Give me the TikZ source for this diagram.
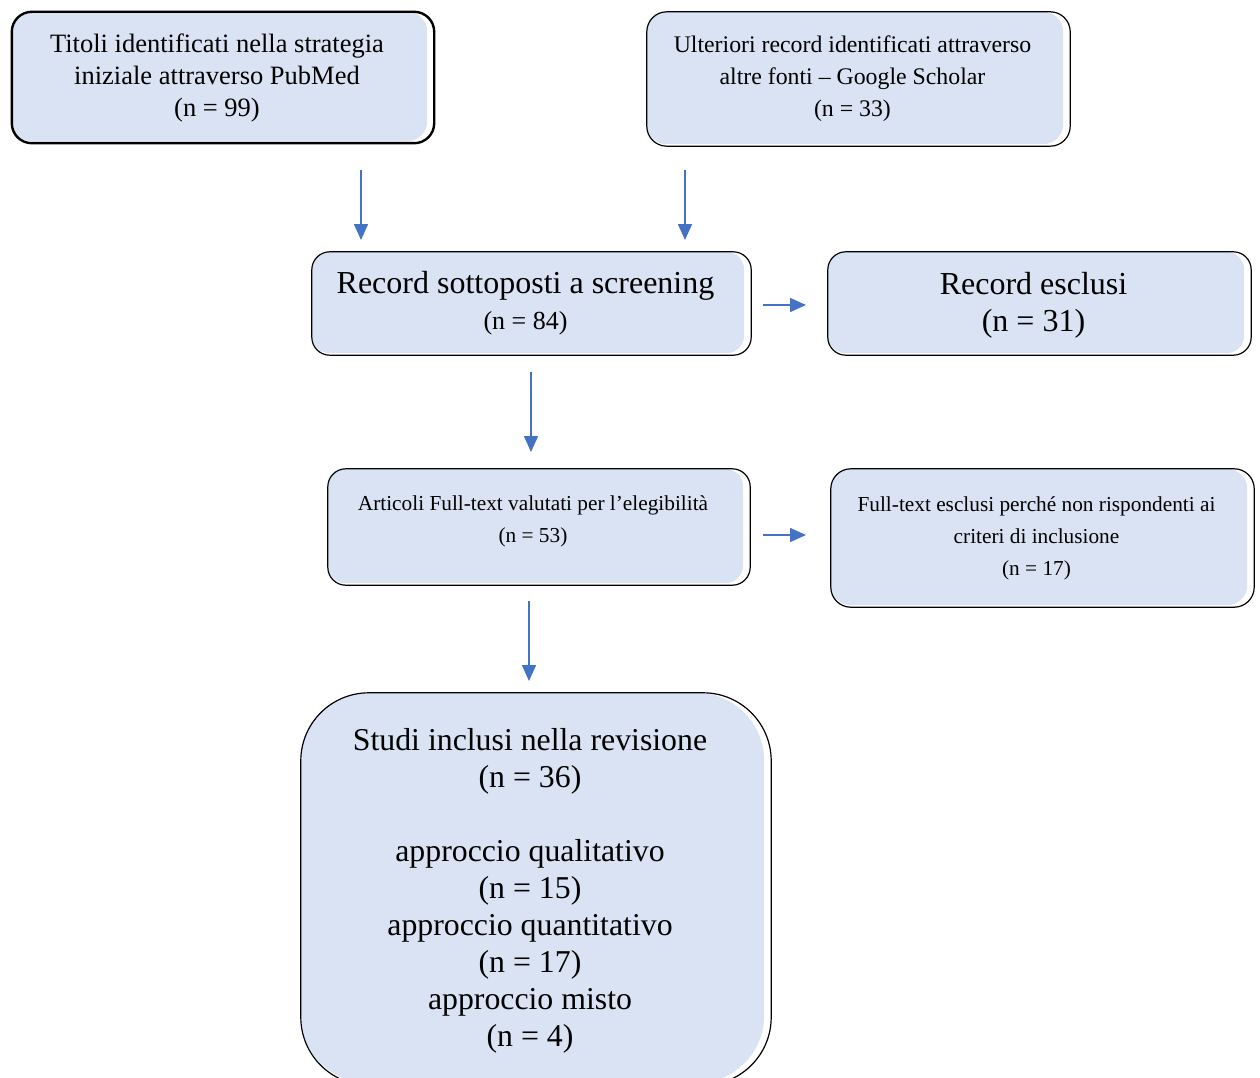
\documentclass[tikz,border=0pt]{standalone}
\usepackage{fontspec}
\setmainfont{Liberation Serif}
\usetikzlibrary{arrows.meta,backgrounds}
\definecolor{boxblue}{HTML}{DAE3F3}
\definecolor{arrowblue}{HTML}{4472C4}
\newcommand\fs[2]{\fontsize{#1}{#2}\selectfont}
% #1 node, #2 corner radius, #3 line width, #4 extra at top, #5 extra at bottom
\newcommand\boxdeco[5]{%
  \begin{pgfonlayer}{background}
    \fill[white, rounded corners=#2] ([yshift=#4]#1.north west) rectangle ([xshift=12pt,yshift=-#5]#1.south east);
    \fill[boxblue, rounded corners=#2] ([yshift=#4]#1.north west) rectangle ([xshift=5pt,yshift=-#5+2pt]#1.south east);
  \end{pgfonlayer}
  \draw[black, line width=#3, rounded corners=#2] ([yshift=#4]#1.north west) rectangle ([xshift=12pt,yshift=-#5]#1.south east);}
\tikzset{
  flowbox/.style={rectangle, inner sep=0pt, align=center, text=black},
  flowarrow/.style={draw=arrowblue, line width=1.6pt, -{Triangle[length=16pt, width=14pt]}}
}
\begin{document}
\begin{tikzpicture}[x=1pt, y=-1pt]
\useasboundingbox (0,0) rectangle (1260,1078);

\node[flowbox, minimum width=410pt, minimum height=131pt, font=\fs{26.5}{32}] (b1) at (217,77.5)
  {Titoli identificati nella strategia\\ iniziale attraverso PubMed\\ (n = 99)};
\boxdeco{b1}{20pt}{2.4pt}{0pt}{0pt}

\node[flowbox, minimum width=411pt, minimum height=134pt, font=\fs{23.8}{32}] (b2) at (852.5,79)
  {Ulteriori record identificati attraverso\\ altre fonti -- Google Scholar\\ (n = 33)};
\boxdeco{b2}{20pt}{1.2pt}{0pt}{0pt}

\node[flowbox, minimum width=427pt, minimum height=103pt, font=\fs{32}{36}] (b3) at (525.5,303.5)
  {Record sottoposti a screening\\ \fs{26}{36}(n = 84)};
\boxdeco{b3}{18pt}{1.2pt}{0pt}{0pt}

\node[flowbox, minimum width=411pt, minimum height=99pt, font=\fs{32}{37}] (b4) at (1033.5,305.5)
  {Record esclusi\\ (n = 31)};
\boxdeco{b4}{18pt}{1.2pt}{4pt}{0pt}

\node[flowbox, minimum width=410pt, minimum height=104pt, font=\fs{21.3}{32}] (b5) at (533,521)
  {Articoli Full-text valutati per l’elegibilità\\ (n = 53)};
\boxdeco{b5}{18pt}{1.2pt}{0pt}{12pt}

\node[flowbox, minimum width=411pt, minimum height=138pt, font=\fs{21.3}{32}] (b6) at (1036.5,538)
  {Full-text esclusi perché non rispondenti ai\\ criteri di inclusione\\ (n = 17)};
\boxdeco{b6}{20pt}{1.2pt}{0pt}{0pt}

\node[flowbox, minimum width=458pt, minimum height=388pt, font=\fs{31.8}{37}] (b7) at (530,891)
  {Studi inclusi nella revisione\\ (n = 36)\\[37pt] approccio qualitativo\\ (n = 15)\\ approccio quantitativo\\ (n = 17)\\ approccio misto\\ (n = 4)};
\boxdeco{b7}{68pt}{1.2pt}{4pt}{0pt}

\coordinate (a1s) at (361,170); \coordinate (a1e) at (361,240);
\coordinate (a2s) at (685,170); \coordinate (a2e) at (685,240);
\coordinate (a3s) at (763,305); \coordinate (a3e) at (806,305);
\coordinate (a4s) at (531,372); \coordinate (a4e) at (531,452);
\coordinate (a5s) at (763,535); \coordinate (a5e) at (806,535);
\coordinate (a6s) at (529,601); \coordinate (a6e) at (529,681);

\draw[flowarrow] (a1s) -- (a1e);
\draw[flowarrow] (a2s) -- (a2e);
\draw[flowarrow] (a3s) -- (a3e);
\draw[flowarrow] (a4s) -- (a4e);
\draw[flowarrow] (a5s) -- (a5e);
\draw[flowarrow] (a6s) -- (a6e);
\end{tikzpicture}
\end{document}
